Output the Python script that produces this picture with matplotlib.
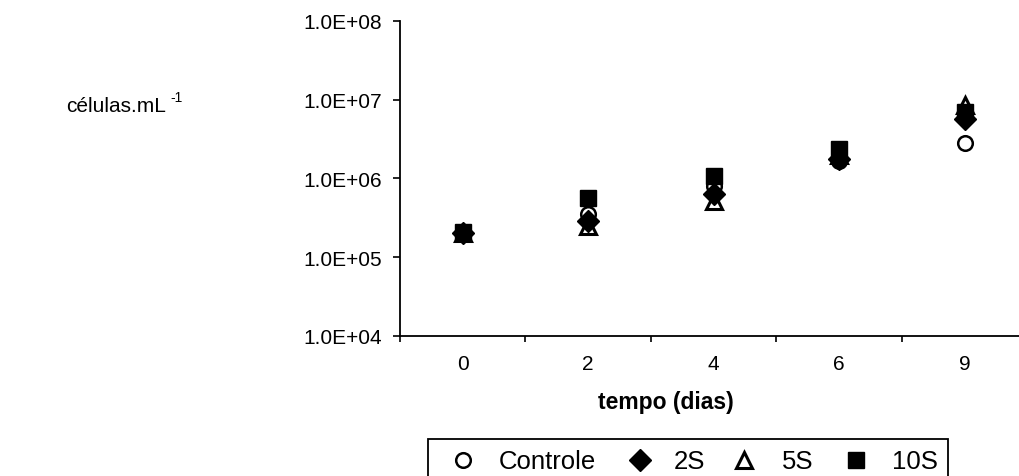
import matplotlib
matplotlib.use("Agg")
import matplotlib.pyplot as plt
from matplotlib.lines import Line2D
from matplotlib.patches import Rectangle

plt.rcParams['font.family'] = ['Liberation Sans', 'DejaVu Sans']

# Sampling days and cell densities (cells per mL) for each treatment
days = ["0", "2", "4", "6", "9"]
controle = [2.05e5, 3.5e5, 8.0e5, 1.65e6, 2.8e6]
s2 = [2.0e5, 2.9e5, 6.3e5, 1.75e6, 5.7e6]
s5 = [2.0e5, 2.45e5, 5.2e5, 2.0e6, 8.4e6]
s10 = [2.1e5, 5.6e5, 1.08e6, 2.35e6, 6.9e6]

series_names = ["Controle", "2S", "5S", "10S"]
y_ticks = [1e4, 1e5, 1e6, 1e7, 1e8]
y_tick_labels = ["1.0E+04", "1.0E+05", "1.0E+06", "1.0E+07", "1.0E+08"]

W, H = 1020, 477
fig = plt.figure(figsize=(W / 100, H / 100), dpi=100)
ax = fig.add_axes([400 / W, 140 / H, 627.5 / W, 315.3 / H])

styles = {
    "Controle": dict(marker="o", ms=10.5, mfc="white", mec="black", mew=1.8),
    "2S": dict(marker="D", ms=11, mfc="black", mec="black", mew=1.0),
    "5S": dict(marker="^", ms=12, mfc="white", mec="black", mew=2.2),
    "10S": dict(marker="s", ms=11.5, mfc="black", mec="black", mew=1.0),
}
values = {"Controle": controle, "2S": s2, "5S": s5, "10S": s10}

xpos = [i + 0.5 for i in range(len(days))]
for name in ["Controle", "5S", "2S", "10S"]:
    ax.plot(xpos, values[name], linestyle="none", **styles[name])

ax.set_yscale("log")
ax.set_ylim(1e4, 1e8)
ax.set_xlim(0, len(days))
ax.yaxis.set_major_locator(matplotlib.ticker.FixedLocator(y_ticks))
ax.yaxis.set_major_formatter(matplotlib.ticker.FixedFormatter(y_tick_labels))
ax.yaxis.set_minor_locator(matplotlib.ticker.NullLocator())
ax.tick_params(axis="y", which="major", direction="out", length=5, width=1.2,
               labelsize=15, pad=8)

# category boundaries as ticks, labels centred on each category
ax.set_xticks(range(len(days) + 1))
ax.set_xticklabels([])
ax.set_xticks(xpos, minor=True)
ax.set_xticklabels(days, minor=True)
ax.tick_params(axis="x", which="major", direction="out", length=4, width=1.2)
ax.tick_params(axis="x", which="minor", length=0, labelsize=15, pad=13)

for side in ["top", "right"]:
    ax.spines[side].set_visible(False)
for side in ["left", "bottom"]:
    ax.spines[side].set_linewidth(1.3)

fig.text(666 / W, 1 - 403 / H, "tempo (dias)", ha="center", va="center",
         fontsize=16.5, fontweight="bold")

# y-axis title
fig.text(66 / W, 1 - 112 / H, "células.mL", ha="left", va="baseline", fontsize=15)
fig.text(170 / W, 1 - 102 / H, "-1", ha="left", va="baseline", fontsize=10)

# legend box drawn in figure pixels
fig.add_artist(Rectangle((427.6 / W, 1 - 495 / H), (948 - 427.6) / W, 55 / H,
                         transform=fig.transFigure, facecolor="white",
                         edgecolor="black", linewidth=1.3))
marker_x = [463, 640, 744, 855.6]
text_x = [498.5, 674, 781.6, 891.8]
for name, mx, tx in zip(series_names, marker_x, text_x):
    st = dict(styles[name])
    fig.add_artist(Line2D([mx / W], [1 - 461 / H], transform=fig.transFigure,
                          linestyle="none", **st))
    fig.text(tx / W, 1 - 469 / H, name, ha="left", va="baseline", fontsize=18.5)

fig.savefig("out.png", dpi=100)
